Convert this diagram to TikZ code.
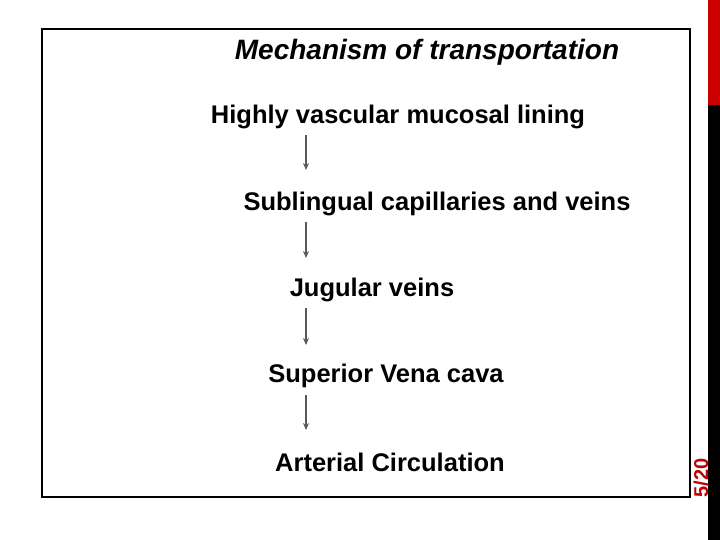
\documentclass[tikz,border=0pt]{standalone}
\usepackage{fontspec}
\setmainfont{Liberation Sans}
\usetikzlibrary{arrows.meta, positioning}
\tikzset{
  lbl/.style={font=\bfseries\fontsize{25.5}{30}\selectfont, inner sep=1pt},
  flow/.style={-{Stealth[length=7pt,width=6pt]}, gray!70!black, line width=1.6pt}
}
\begin{document}
\begin{tikzpicture}[x=1pt,y=-1pt]
	\useasboundingbox (0,0) rectangle (720,540);
	\fill[red!80!black] (708,0) rectangle (720,105);
	\fill[black] (708,105) rectangle (720,540);
	\draw[line width=2.5pt] (42,29) rectangle (690,497);
	\node[rotate=90, text=red!75!black, font=\bfseries\fontsize{20}{22}\selectfont] (pg) at (701,478) {5/20};
	\node[font=\bfseries\itshape\fontsize{28}{32}\selectfont] (title) at (427,52) {Mechanism of transportation};
	\node[lbl] (a) at (398,117) {Highly vascular mucosal lining};
	\node[lbl] (b) at (437,204) {Sublingual capillaries and veins};
	\node[lbl] (c) at (372,290) {Jugular veins};
	\node[lbl] (d) at (386,376) {Superior Vena cava};
	\node[lbl] (e) at (390,462) {Arterial Circulation};
	\coordinate (a1) at (306,135); \coordinate (a2) at (306,170);
	\coordinate (b1) at (306,222); \coordinate (b2) at (306,258);
	\coordinate (c1) at (306,308); \coordinate (c2) at (306,345);
	\coordinate (d1) at (306,395); \coordinate (d2) at (306,430);
	\draw[flow] (a1) -- (a2);
	\draw[flow] (b1) -- (b2);
	\draw[flow] (c1) -- (c2);
	\draw[flow] (d1) -- (d2);
\end{tikzpicture}
\end{document}
